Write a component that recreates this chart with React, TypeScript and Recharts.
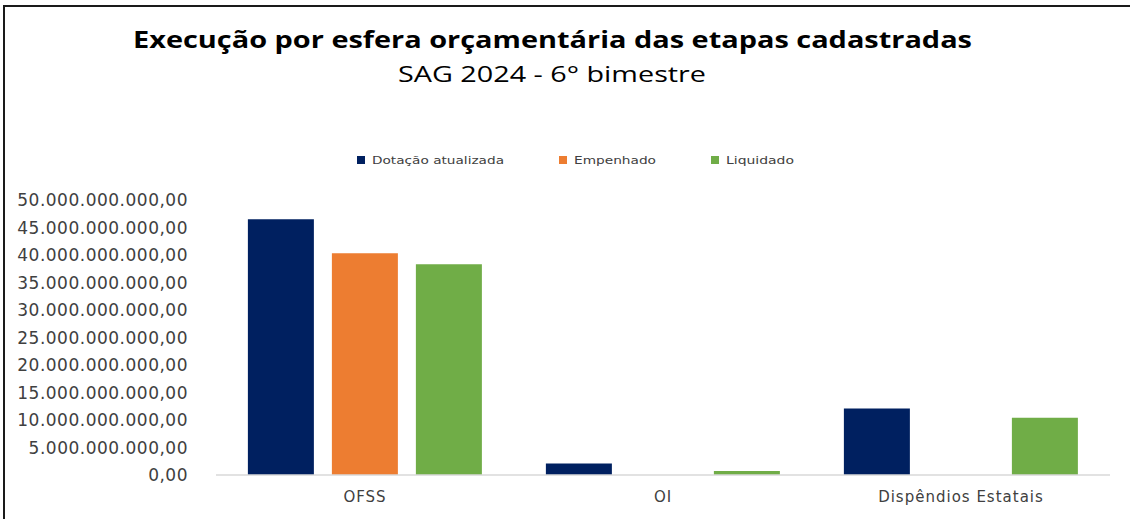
import { BarChart, Bar, XAxis, YAxis } from 'recharts';

// Valores (R$)
const categories = ['OFSS', 'OI', 'Dispêndios Estatais'];
const dotacaoAtualizada = [46.5e9, 2.1e9, 12.1e9];
const empenhado = [40.3e9, 0, 0];
const liquidado = [38.3e9, 0.73e9, 10.4e9];
const yTicks = [0, 5e9, 10e9, 15e9, 20e9, 25e9, 30e9, 35e9, 40e9, 45e9, 50e9];

const series = [
  { key: 'dotacao', name: 'Dotação atualizada', color: '#002060', textWidth: 132 },
  { key: 'empenhado', name: 'Empenhado', color: '#ED7D31', textWidth: 82 },
  { key: 'liquidado', name: 'Liquidado', color: '#70AD47', textWidth: 68 },
];

const data = categories.map((name, i) => ({
  name,
  dotacao: dotacaoAtualizada[i],
  empenhado: empenhado[i],
  liquidado: liquidado[i],
}));

// 50000000000 -> "50.000.000.000,00"
function formatBR(v: number) {
  const int = Math.round(v)
    .toString()
    .replace(/\B(?=(\d{3})+(?!\d))/g, '.');
  return int + ',00';
}

const tickFont = { fontFamily: 'DejaVu Sans', fontSize: 17, fill: '#404040', letterSpacing: 0.5 };

export default function App() {
  return (
    <div style={{ position: 'absolute', left: 0, top: 0, width: 1130, height: 519, background: '#fff', overflow: 'hidden' }}>
      <BarChart
        width={1130}
        height={519}
        data={data}
        margin={{ top: 200, right: 20, bottom: 14, left: 0 }}
        barCategoryGap="10.7%"
        barGap={18}
      >
        <XAxis
          dataKey="name"
          height={30}
          axisLine={{ stroke: '#d9d9d9', strokeWidth: 1.5 }}
          tickLine={false}
          tickMargin={10}
          tick={{ fontFamily: 'DejaVu Sans', fontSize: 15, fill: '#404040', letterSpacing: 1 }}
        />
        <YAxis
          width={216}
          domain={[0, 50e9]}
          ticks={yTicks}
          interval={0}
          axisLine={false}
          tickLine={false}
          tickMargin={22}
          tickFormatter={formatBR}
          tick={tickFont}
        />
        {series.map((s) => (
          <Bar key={s.key} dataKey={s.key} name={s.name} fill={s.color} isAnimationActive={false} />
        ))}
      </BarChart>

      <svg width={1130} height={519} style={{ position: 'absolute', left: 0, top: 0, pointerEvents: 'none' }}>
        <line x1={3} y1={6} x2={1130} y2={6} stroke="#1a1a1a" strokeWidth={2} />
        <line x1={4} y1={5} x2={4} y2={519} stroke="#1a1a1a" strokeWidth={2} />
        <text
          x={133}
          y={48}
          textLength={839}
          lengthAdjust="spacingAndGlyphs"
          fontFamily="Open Sans"
          fontWeight={700}
          fontSize={23}
          fill="#000"
        >
          Execução por esfera orçamentária das etapas cadastradas
        </text>
        <text
          x={398}
          y={82}
          textLength={308}
          lengthAdjust="spacingAndGlyphs"
          fontFamily="Open Sans"
          fontSize={22}
          fill="#000"
        >
          SAG 2024 - 6° bimestre
        </text>
      </svg>

      <div
        style={{
          position: 'absolute',
          left: 357,
          top: 152,
          display: 'flex',
          alignItems: 'center',
          gap: 55,
          fontFamily: 'DejaVu Sans',
          fontSize: 11,
          color: '#404040',
        }}
      >
        {series.map((s) => (
          <div key={s.key} style={{ display: 'flex', alignItems: 'center', height: 16 }}>
            <span style={{ width: 8, height: 8, background: s.color, marginRight: 7, display: 'inline-block' }} />
            <svg width={s.textWidth} height={16}>
              <text x={0} y={12} textLength={s.textWidth} lengthAdjust="spacingAndGlyphs" fontFamily="DejaVu Sans" fontSize={11} fill="#404040">
                {s.name}
              </text>
            </svg>
          </div>
        ))}
      </div>
    </div>
  );
}
